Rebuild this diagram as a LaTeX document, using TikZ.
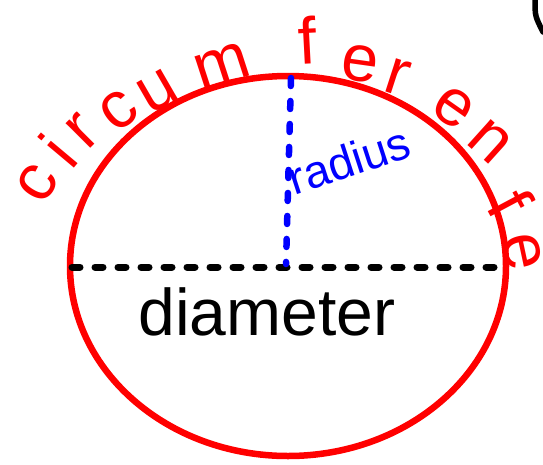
\documentclass[tikz,border=0pt]{standalone}
\usepackage{fontspec}
\setmainfont{Liberation Sans}
\begin{document}
\begin{tikzpicture}[x=1pt,y=-1pt,
  ring/.style={draw=red,line width=6.5pt},
  diadash/.style={draw=black,line width=7pt,line cap=round,dash pattern=on 8pt off 15pt},
  raddash/.style={draw=blue,line width=6.5pt,line cap=round,dash pattern=on 8pt off 15pt},
  circletter/.style={text=red,inner sep=0pt,font=\fontsize{66}{66}\selectfont},
  lbl/.style={inner sep=0pt}]
\useasboundingbox (0,0) rectangle (543,464);
\fill[white] (0,0) rectangle (543,464);
\coordinate (O) at (288,266);
\draw[ring] (O) ellipse [x radius=218, y radius=190];
\coordinate (L) at (72,267);
\coordinate (R) at (502,267);
\coordinate (T) at (291,78);
\coordinate (B) at (286,264);
\draw[diadash] (L) -- (R);
\draw[raddash] (T) -- (B);
% circumference letters
\foreach \ch/\px/\py/\ang [count=\i] in {c/37/183/58, i/58/151/50, r/83/131/45, c/119/111/38, u/158/91/30, m/222/66/18, f/307/40/3, e/360/64/-8, r/397/77/-18, e/454/108/-35, n/490/142/-42, f/511/203/-62, e/522/252/-78}
  \node[circletter,rotate=\ang] (c\i) at (\px,\py) {\ch};
\node[lbl,text=blue,rotate=18,font=\fontsize{46}{46}\selectfont] (radius) at (349,160) {radius};
\node[lbl,text=black,font=\fontsize{66}{66}\selectfont] (diameter) at (267,312) {diameter};
\draw[line width=5.5pt,line cap=round] (535,0) .. controls (535,16) .. (543,32);
\end{tikzpicture}
\end{document}
